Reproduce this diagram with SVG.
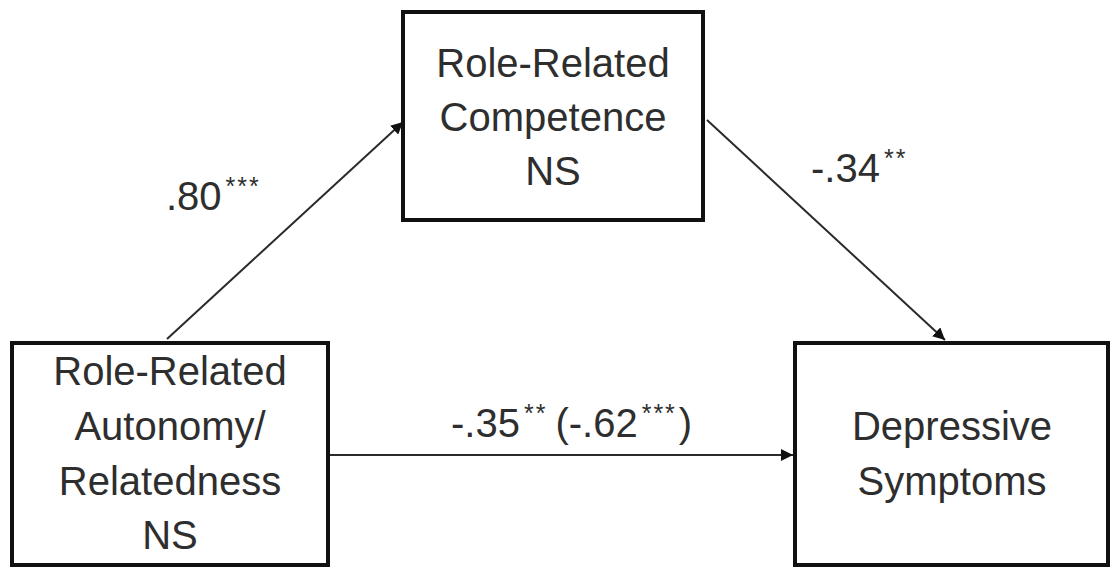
<svg xmlns="http://www.w3.org/2000/svg" width="1111" height="569" viewBox="0 0 1111 569">
  <style>
    .box { fill: #ffffff; stroke: #111111; stroke-width: 4; }
    .lbl { font-family: "Liberation Sans", Arial, sans-serif; font-size: 40px; fill: #2e2e2e; text-anchor: middle; }
    .coef { font-family: "Liberation Sans", Arial, sans-serif; font-size: 40px; fill: #2e2e2e; }
    .sup { font-size: 25px; letter-spacing: 2px; }
    .edge { stroke: #2a2a2a; stroke-width: 2; fill: none; marker-end: url(#head); }
  </style>
  <defs>
    <marker id="head" viewBox="0 0 10 10" refX="10" refY="5" markerWidth="6" markerHeight="6" markerUnits="strokeWidth" orient="auto">
      <path d="M0,0 L10,5 L0,10 Z" fill="#111111"/>
    </marker>
  </defs>
  <rect width="1111" height="569" fill="#ffffff"/>

  <!-- path arrows -->
  <g id="connectors">
    <line class="edge" x1="167" y1="339" x2="403" y2="122"/>
    <line class="edge" x1="707" y1="120" x2="945" y2="340"/>
    <line class="edge" x1="330" y1="455" x2="793" y2="455"/>
  </g>

  <g id="competence">
    <rect class="box" x="403" y="12" width="300" height="208"/>
    <text class="lbl" x="553" y="77">Role-Related</text>
    <text class="lbl" x="553" y="131">Competence</text>
    <text class="lbl" x="553" y="185">NS</text>
  </g>

  <g id="autonomy">
    <rect class="box" x="12" y="343" width="316" height="222"/>
    <text class="lbl" x="170" y="385">Role-Related</text>
    <text class="lbl" x="170" y="440">Autonomy/</text>
    <text class="lbl" x="170" y="495">Relatedness</text>
    <text class="lbl" x="170" y="549">NS</text>
  </g>

  <g id="depressive">
    <rect class="box" x="795" y="343" width="313" height="222"/>
    <text class="lbl" x="952" y="440">Depressive</text>
    <text class="lbl" x="952" y="495">Symptoms</text>
  </g>

  <!-- path coefficients with significance stars -->
  <g id="coefficients">
    <text class="coef" x="166" y="210">.80<tspan class="sup" dx="4" dy="-15">***</tspan></text>
    <text class="coef" x="811" y="182">-.34<tspan class="sup" dx="4" dy="-15">**</tspan></text>
    <text class="coef" x="451" y="437">-.35<tspan class="sup" dx="4" dy="-15">**</tspan><tspan dx="8" dy="15">(-.62</tspan><tspan class="sup" dx="4" dy="-15">***</tspan><tspan dx="2" dy="15">)</tspan></text>
  </g>
</svg>
